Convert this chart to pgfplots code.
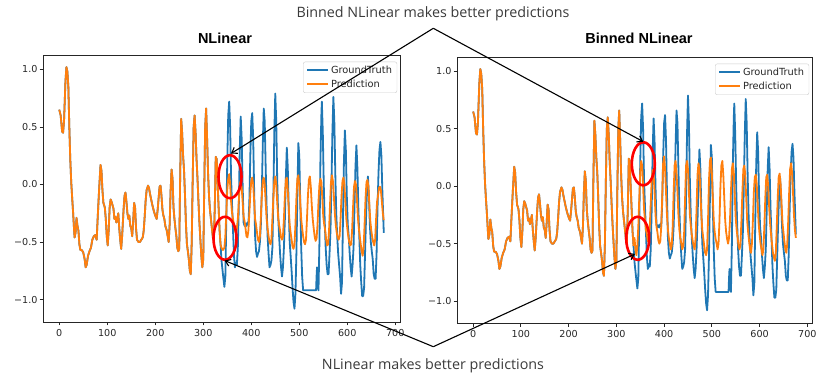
\documentclass[border=0pt]{standalone}
\usepackage{pgfplots}
\pgfplotsset{compat=1.18}
\usepackage{pgfplotstable}
\usepackage{fontspec}
\setmainfont{Open Sans}
\newfontfamily\dejavu{DejaVu Sans}
\newfontfamily\titlefont{Liberation Sans}
\usetikzlibrary{arrows.meta}
\definecolor{mplblue}{HTML}{1F77B4}
\definecolor{mplorange}{HTML}{FF7F0E}
\definecolor{annot}{HTML}{3A3A3A}

\pgfplotstableread{
x y
0 0.65
3 0.60
6 0.46
8 0.45
10 0.55
13 0.90
15 1.02
17 0.98
19 0.85
21 0.50
23 0.22
25 0.02
27 -0.12
29 -0.25
31 -0.40
32 -0.46
34 -0.42
36 -0.29
38 -0.36
40 -0.40
42 -0.52
44 -0.57
47 -0.57
50 -0.59
53 -0.65
55 -0.72
57 -0.70
60 -0.62
63 -0.58
66 -0.55
69 -0.48
72 -0.45
75 -0.44
78 -0.48
80 -0.30
83 -0.05
86 0.17
88 0.12
90 -0.05
92 -0.16
95 -0.20
97 -0.30
99 -0.45
101 -0.53
103 -0.40
105 -0.20
107 -0.13
109 -0.15
111 -0.18
113 -0.21
115 -0.30
117 -0.28
119 -0.33
121 -0.30
123 -0.25
125 -0.38
127 -0.48
129 -0.56
131 -0.45
134 -0.22
136 -0.10
138 -0.07
140 -0.15
142 -0.25
144 -0.30
146 -0.27
148 -0.36
150 -0.38
152 -0.45
154 -0.32
156 -0.16
158 -0.20
160 -0.38
162 -0.48
165 -0.50
168 -0.50
171 -0.48
174 -0.46
176 -0.40
178 -0.28
180 -0.14
182 -0.05
185 -0.01
187 -0.03
189 -0.08
191 -0.12
194 -0.18
197 -0.23
200 -0.27
203 -0.30
205 -0.22
207 -0.12
209 -0.02
211 -0.01
213 -0.10
215 -0.22
217 -0.27
219 -0.30
221 -0.36
224 -0.40
226 -0.45
228 -0.50
230 -0.35
232 -0.05
234 0.13
236 0.05
238 -0.20
240 -0.30
242 -0.38
244 -0.45
246 -0.55
248 -0.58
250 -0.56
252 0.10
254 0.57
256 0.45
258 0.25
260 0.12
262 -0.10
264 -0.35
266 -0.52
268 -0.58
270 -0.65
272 -0.75
274 -0.78
276 -0.50
278 0.05
280 0.50
282 0.60
284 0.45
286 0.22
288 0.05
290 -0.15
292 -0.33
294 -0.48
296 -0.62
298 -0.72
300 -0.65
302 -0.05
304 0.50
306 0.66
308 0.40
310 0.10
312 -0.10
314 -0.22
316 -0.30
318 -0.38
320 -0.46
322 -0.49
324 -0.20
326 0.24
328 0.22
330 0.00
332 -0.20
334 -0.40
336 -0.52
}\hist

\pgfplotstableread{
x y
336 -0.52
338 -0.66
341 -0.78
344 -0.89
346 -0.80
348 -0.30
350 0.20
352 0.60
354 0.72
356 0.50
358 0.05
360 -0.18
362 -0.40
364 -0.62
366 -0.72
368 -0.68
370 -0.70
372 -0.55
374 -0.20
376 0.30
378 0.59
380 0.40
382 0.00
384 -0.33
386 -0.36
388 -0.34
390 -0.36
392 -0.33
394 -0.35
396 -0.15
398 0.25
400 0.55
402 0.62
404 0.40
406 -0.05
408 -0.45
410 -0.58
412 -0.63
414 -0.60
416 -0.58
418 -0.50
420 -0.35
422 -0.05
424 0.35
426 0.66
428 0.55
430 0.15
432 -0.20
434 -0.45
436 -0.60
438 -0.72
440 -0.70
442 -0.66
444 -0.55
446 -0.10
448 0.45
450 0.79
452 0.55
454 0.05
456 -0.27
458 -0.45
460 -0.60
462 -0.72
464 -0.80
466 -0.72
468 -0.55
470 -0.30
472 0.05
474 0.32
476 0.15
478 -0.20
480 -0.50
482 -0.62
484 -0.75
486 -0.90
488 -1.02
490 -1.08
492 -0.95
494 -0.60
496 -0.10
498 0.36
500 0.25
502 -0.15
504 -0.55
506 -0.80
508 -0.92
535 -0.92
536 -0.80
537 -0.72
538 -0.80
540 -0.92
542 -0.50
544 0.20
546 0.60
547 0.72
549 0.45
551 0.00
553 -0.32
555 -0.55
557 -0.70
559 -0.78
561 -0.78
563 -0.60
565 -0.40
567 0.00
569 0.45
571 0.76
573 0.55
575 0.10
577 -0.25
579 -0.45
581 -0.60
583 -0.70
585 -0.80
587 -0.95
589 -0.85
591 -0.30
593 0.20
595 0.47
597 0.30
599 -0.10
601 -0.35
603 -0.45
605 -0.60
607 -0.72
609 -0.80
611 -0.70
613 -0.55
615 -0.20
617 0.15
619 0.34
621 0.15
623 -0.20
625 -0.45
627 -0.70
629 -0.85
631 -0.97
633 -0.97
635 -0.90
637 -0.60
639 -0.30
641 -0.05
643 0.07
645 -0.10
647 -0.35
649 -0.50
651 -0.58
653 -0.65
655 -0.78
657 -0.82
659 -0.82
661 -0.60
663 -0.20
665 0.10
667 0.30
669 0.37
671 0.25
673 -0.05
676 -0.42
}\truth

\pgfplotstableread{
x y
336 -0.52
338 -0.55
341 -0.57
344 -0.55
346 -0.45
348 -0.25
350 -0.05
352 0.05
354 0.09
356 0.00
358 -0.15
360 -0.25
362 -0.30
364 -0.35
366 -0.40
368 -0.42
370 -0.38
372 -0.30
374 -0.15
376 0.00
378 0.03
380 -0.02
382 -0.15
384 -0.28
386 -0.32
388 -0.38
390 -0.45
392 -0.46
394 -0.40
396 -0.25
398 -0.08
400 0.03
402 0.06
404 0.00
406 -0.15
408 -0.30
410 -0.35
412 -0.42
414 -0.48
416 -0.50
418 -0.45
420 -0.28
422 -0.10
424 0.03
426 0.06
428 0.00
430 -0.15
432 -0.30
434 -0.38
436 -0.45
438 -0.50
440 -0.52
442 -0.48
444 -0.30
446 -0.12
448 0.03
450 0.07
452 0.00
454 -0.15
456 -0.28
458 -0.35
460 -0.40
462 -0.46
464 -0.48
466 -0.45
468 -0.30
470 -0.10
472 0.04
474 0.06
476 -0.05
478 -0.20
480 -0.35
482 -0.42
484 -0.48
486 -0.54
488 -0.56
490 -0.52
492 -0.35
494 -0.12
496 0.05
498 0.08
500 0.00
502 -0.15
504 -0.30
506 -0.38
508 -0.45
510 -0.50
512 -0.52
514 -0.48
516 -0.30
518 -0.10
520 0.04
522 0.07
524 -0.02
526 -0.18
528 -0.30
530 -0.38
532 -0.45
534 -0.49
536 -0.47
538 -0.35
540 -0.15
542 0.00
544 0.05
546 0.02
548 -0.12
550 -0.28
552 -0.35
554 -0.40
556 -0.48
558 -0.53
560 -0.52
562 -0.40
564 -0.18
566 0.02
568 0.08
570 0.03
572 -0.10
574 -0.25
576 -0.35
578 -0.42
580 -0.46
582 -0.48
584 -0.45
586 -0.30
588 -0.10
590 0.03
592 0.06
594 0.00
596 -0.15
598 -0.30
600 -0.38
602 -0.45
604 -0.50
606 -0.53
608 -0.52
610 -0.40
612 -0.20
614 -0.02
616 0.03
618 0.00
620 -0.12
622 -0.28
624 -0.38
626 -0.45
628 -0.52
630 -0.58
632 -0.62
634 -0.55
636 -0.35
638 -0.12
640 0.02
642 0.04
644 -0.02
646 -0.18
648 -0.32
650 -0.40
652 -0.46
654 -0.50
656 -0.53
658 -0.48
660 -0.30
662 -0.15
664 -0.10
666 -0.03
668 -0.02
670 -0.05
672 -0.15
674 -0.25
676 -0.31
}\prednl

\pgfplotstableread{
x y
336 -0.52
338 -0.45
340 -0.55
342 -0.60
344 -0.52
346 -0.35
348 -0.10
350 0.12
352 0.22
354 0.18
356 0.00
358 -0.20
360 -0.30
362 -0.38
364 -0.42
366 -0.48
368 -0.45
370 -0.35
372 -0.15
374 0.05
376 0.14
378 0.10
380 -0.05
382 -0.25
384 -0.35
386 -0.40
388 -0.47
390 -0.50
392 -0.48
394 -0.35
396 -0.10
398 0.20
400 0.26
402 0.15
404 -0.05
406 -0.25
408 -0.38
410 -0.45
412 -0.50
414 -0.55
416 -0.52
418 -0.35
420 -0.05
422 0.18
424 0.22
426 0.12
428 -0.05
430 -0.25
432 -0.38
434 -0.45
436 -0.50
438 -0.55
440 -0.52
442 -0.40
444 -0.10
446 0.18
448 0.22
450 0.15
452 -0.05
454 -0.25
456 -0.35
458 -0.42
460 -0.48
462 -0.52
464 -0.55
466 -0.45
468 -0.20
470 0.10
472 0.20
474 0.15
476 -0.05
478 -0.25
480 -0.38
482 -0.45
484 -0.52
486 -0.58
488 -0.60
490 -0.55
492 -0.30
494 0.05
496 0.22
498 0.25
500 0.12
502 -0.10
504 -0.30
506 -0.40
508 -0.46
510 -0.50
512 -0.55
514 -0.50
516 -0.30
518 0.00
520 0.18
522 0.22
524 0.10
526 -0.10
528 -0.30
530 -0.40
532 -0.46
534 -0.50
536 -0.45
538 -0.30
540 -0.05
542 0.15
544 0.20
546 0.12
548 -0.08
550 -0.28
552 -0.38
554 -0.45
556 -0.52
558 -0.55
560 -0.50
562 -0.30
564 -0.05
566 0.15
568 0.18
570 0.10
572 -0.10
574 -0.30
576 -0.40
578 -0.48
580 -0.55
582 -0.58
584 -0.50
586 -0.30
588 -0.05
590 0.08
592 0.10
594 0.02
596 -0.15
598 -0.32
600 -0.42
602 -0.50
604 -0.55
606 -0.60
608 -0.55
610 -0.35
612 -0.10
614 0.08
616 0.10
618 0.00
620 -0.18
622 -0.32
624 -0.42
626 -0.50
628 -0.58
630 -0.62
632 -0.65
634 -0.58
636 -0.35
638 -0.10
640 0.08
642 0.11
644 0.02
646 -0.15
648 -0.32
650 -0.40
652 -0.48
654 -0.55
656 -0.58
658 -0.50
660 -0.30
662 -0.05
664 0.15
666 0.20
668 0.12
670 -0.05
672 -0.25
674 -0.38
676 -0.45
}\predbin

\pgfplotsset{
  myaxis/.style={
    scale only axis,
    anchor=south west,
    xmin=-33.8, xmax=709.8, ymin=-1.195, ymax=1.125,
    axis line style={black!85, line width=0.8pt},
    tick style={black!85, line width=0.8pt},
    tick align=outside, major tick length=3.5pt,
    tick pos=left,
    xtick={0,100,200,300,400,500,600,700},
    xticklabels={0,100,200,300,400,500,600,700},
    ytick={-1,-0.5,0,0.5,1},
    yticklabels={−1.0,−0.5,0.0,0.5,1.0},
    tick label style={font=\dejavu\fontsize{9.6}{11}\selectfont, text=black!85},
    yticklabel style={xshift=1.5pt},
    legend style={at={(rel axis cs:0.992,0.975)}, anchor=north east,
      draw=black!20, rounded corners=2pt, fill=white,
      inner xsep=3pt, inner ysep=2pt, row sep=1pt,
      font=\dejavu\fontsize{9.8}{11.5}\selectfont, text=black!85, cells={anchor=west}},
    legend image code/.code={\draw[#1] (0pt,0pt) -- (21pt,0pt);},
  },
  gtline/.style={draw=mplblue, line width=1.8pt, line join=round},
  prline/.style={draw=mplorange, line width=1.8pt, line join=round},
}

\begin{document}
\begin{tikzpicture}[x=1pt,y=1pt]
\path[use as bounding box] (0pt,0pt) rectangle (817pt,374pt);

\begin{axis}[myaxis, at={(43pt,52pt)}, width=357pt, height=267pt]
\addplot[gtline, forget plot] table[x=x,y=y] {\hist};
\addplot[gtline, forget plot] table[x=x,y=y] {\truth};
\addplot[prline, forget plot] table[x=x,y=y] {\hist};
\addplot[prline, forget plot] table[x=x,y=y] {\prednl};
\addlegendimage{draw=mplblue, line width=1.8pt}
\addlegendentry{GroundTruth}
\addlegendimage{draw=mplorange, line width=1.8pt}
\addlegendentry{Prediction}
\end{axis}

\begin{axis}[myaxis, at={(457pt,50.5pt)}, width=355pt, height=266.5pt]
\addplot[gtline, forget plot] table[x=x,y=y] {\hist};
\addplot[gtline, forget plot] table[x=x,y=y] {\truth};
\addplot[prline, forget plot] table[x=x,y=y] {\hist};
\addplot[prline, forget plot] table[x=x,y=y] {\predbin};
\addlegendimage{draw=mplblue, line width=1.8pt}
\addlegendentry{GroundTruth}
\addlegendimage{draw=mplorange, line width=1.8pt}
\addlegendentry{Prediction}
\end{axis}

% titles
\node[font=\titlefont\bfseries\fontsize{14.5}{16}\selectfont] at (225pt,336pt) {NLinear};
\node[font=\titlefont\bfseries\fontsize{14.5}{16}\selectfont] at (639pt,336pt) {Binned NLinear};

% red ellipses
\draw[red, line width=2.6pt] (230pt,197.3pt) ellipse [x radius=11.5pt, y radius=21.5pt];
\draw[red, line width=2.6pt] (225pt,135.7pt) ellipse [x radius=11.5pt, y radius=21.5pt];
\draw[red, line width=2.6pt] (643.3pt,210.2pt) ellipse [x radius=11.5pt, y radius=21.5pt];
\draw[red, line width=2.6pt] (637.7pt,135.7pt) ellipse [x radius=11.5pt, y radius=21.5pt];

% annotation arrows
\draw[black, line width=1.1pt, -{Straight Barb[length=5pt,width=7pt]}] (433.3pt,345.7pt) -- (231pt,220.5pt);
\draw[black, line width=1.1pt, -{Straight Barb[length=5pt,width=7pt]}] (433.3pt,345.7pt) -- (643.3pt,232.3pt);
\draw[black, line width=1.1pt, -{Straight Barb[length=5pt,width=7pt]}] (433.3pt,27.3pt) -- (224.5pt,113.5pt);
\draw[black, line width=1.1pt, -{Straight Barb[length=5pt,width=7pt]}] (433.3pt,27.3pt) -- (635pt,120pt);

\node[font=\fontsize{14.3}{16}\selectfont, text=annot] at (433pt,360pt) {Binned NLinear makes better predictions};
\node[font=\fontsize{14.3}{16}\selectfont, text=annot] at (433pt,8pt) {NLinear makes better predictions};
\end{tikzpicture}
\end{document}
